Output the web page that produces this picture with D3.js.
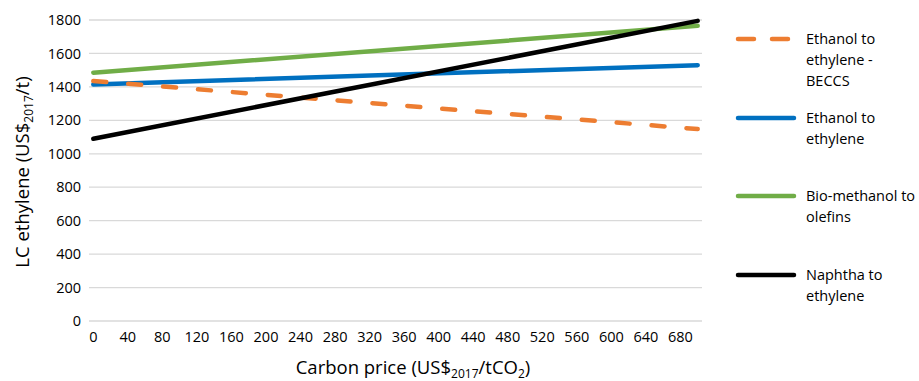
<!DOCTYPE html>
<html>
<head>
<meta charset="utf-8">
<script src="https://cdn.jsdelivr.net/npm/d3@7"></script>
<style>
  body { margin: 0; background: #fff; }
  text { font-family: "Open Sans", sans-serif; fill: #000; }
</style>
</head>
<body>
<svg width="919" height="381"></svg>
<script>
// carbon price (US$2017/tCO2) at the two ends of each line
const carbonPrice = [0, 700];
const ethanolBeccs = [1435, 1148];
const ethanol = [1415, 1530];
const bioMethanol = [1485, 1765];
const naphtha = [1090, 1795];

const xTicks = d3.range(0, 681, 40);
const yTicks = [0, 200, 400, 600, 800, 1000, 1200, 1400, 1600, 1800];

const seriesNames = ["Ethanol to ethylene - BECCS", "Ethanol to ethylene", "Bio-methanol to olefins", "Naphtha to ethylene"];
const legendLines = [["Ethanol to", "ethylene -", "BECCS"], ["Ethanol to", "ethylene"], ["Bio-methanol to", "olefins"], ["Naphtha to", "ethylene"]];
const seriesValues = [ethanolBeccs, ethanol, bioMethanol, naphtha];
const colors = ["#ed7d31", "#0070c0", "#70ad47", "#000000"];

const svg = d3.select("svg");

const x = d3.scaleLinear().domain([-5, 705]).range([89, 702]);
const y = d3.scaleLinear().domain([0, 1800]).range([321, 20]);

// gridlines
svg.append("g")
    .selectAll("line")
    .data(yTicks)
    .join("line")
    .attr("x1", 89).attr("x2", 702)
    .attr("y1", d => y(d)).attr("y2", d => y(d))
    .attr("stroke", "#d9d9d9")
    .attr("stroke-width", 1.3);

// y axis labels
svg.append("g")
    .selectAll("text")
    .data(yTicks)
    .join("text")
    .attr("x", 81)
    .attr("y", d => y(d))
    .attr("dy", "0.35em")
    .attr("text-anchor", "end")
    .attr("font-size", 14.5)
    .text(d => d);

// x axis labels
svg.append("g")
    .selectAll("text")
    .data(xTicks)
    .join("text")
    .attr("x", d => x(d))
    .attr("y", 342)
    .attr("text-anchor", "middle")
    .attr("font-size", 14.5)
    .text(d => d);

// axis titles
const xt = svg.append("text")
    .attr("x", 413).attr("y", 374)
    .attr("text-anchor", "middle")
    .attr("font-size", 18.5);
xt.append("tspan").text("Carbon price (US$");
xt.append("tspan").attr("font-size", 12).attr("dy", 4).text("2017");
xt.append("tspan").attr("dy", -4).text("/tCO");
xt.append("tspan").attr("font-size", 12).attr("dy", 4).text("2");
xt.append("tspan").attr("dy", -4).text(")");

const yt = svg.append("text")
    .attr("transform", "translate(29,172) rotate(-90)")
    .attr("text-anchor", "middle")
    .attr("font-size", 18.5);
yt.append("tspan").text("LC ethylene (US$");
yt.append("tspan").attr("font-size", 12).attr("dy", 4).text("2017");
yt.append("tspan").attr("dy", -4).text("/t)");

// series lines
const line = d3.line()
    .x((d, i) => x(carbonPrice[i]))
    .y(d => y(d));

const drawOrder = [2, 1, 0, 3];
svg.append("g")
    .selectAll("path")
    .data(drawOrder)
    .join("path")
    .attr("d", i => line(seriesValues[i]))
    .attr("fill", "none")
    .attr("stroke", i => colors[i])
    .attr("stroke-width", 4.5)
    .attr("stroke-linecap", "round")
    .attr("stroke-dasharray", i => i === 0 ? "13,22" : null);

// legend
const legendY = [39, 118, 196, 275];
const legend = svg.append("g")
    .selectAll("g")
    .data(seriesNames)
    .join("g")
    .attr("transform", (d, i) => `translate(0,${legendY[i]})`);

legend.append("line")
    .attr("x1", 738).attr("x2", 794)
    .attr("stroke", (d, i) => colors[i])
    .attr("stroke-width", 4.5)
    .attr("stroke-linecap", "round")
    .attr("stroke-dasharray", (d, i) => i === 0 ? "16,18" : null);

legend.append("text")
    .attr("x", 806)
    .attr("y", 5)
    .attr("font-size", 14.5)
    .selectAll("tspan")
    .data((d, i) => legendLines[i])
    .join("tspan")
    .attr("x", 806)
    .attr("dy", (d, j) => j === 0 ? 0 : 21)
    .text(d => d);
</script>
</body>
</html>
